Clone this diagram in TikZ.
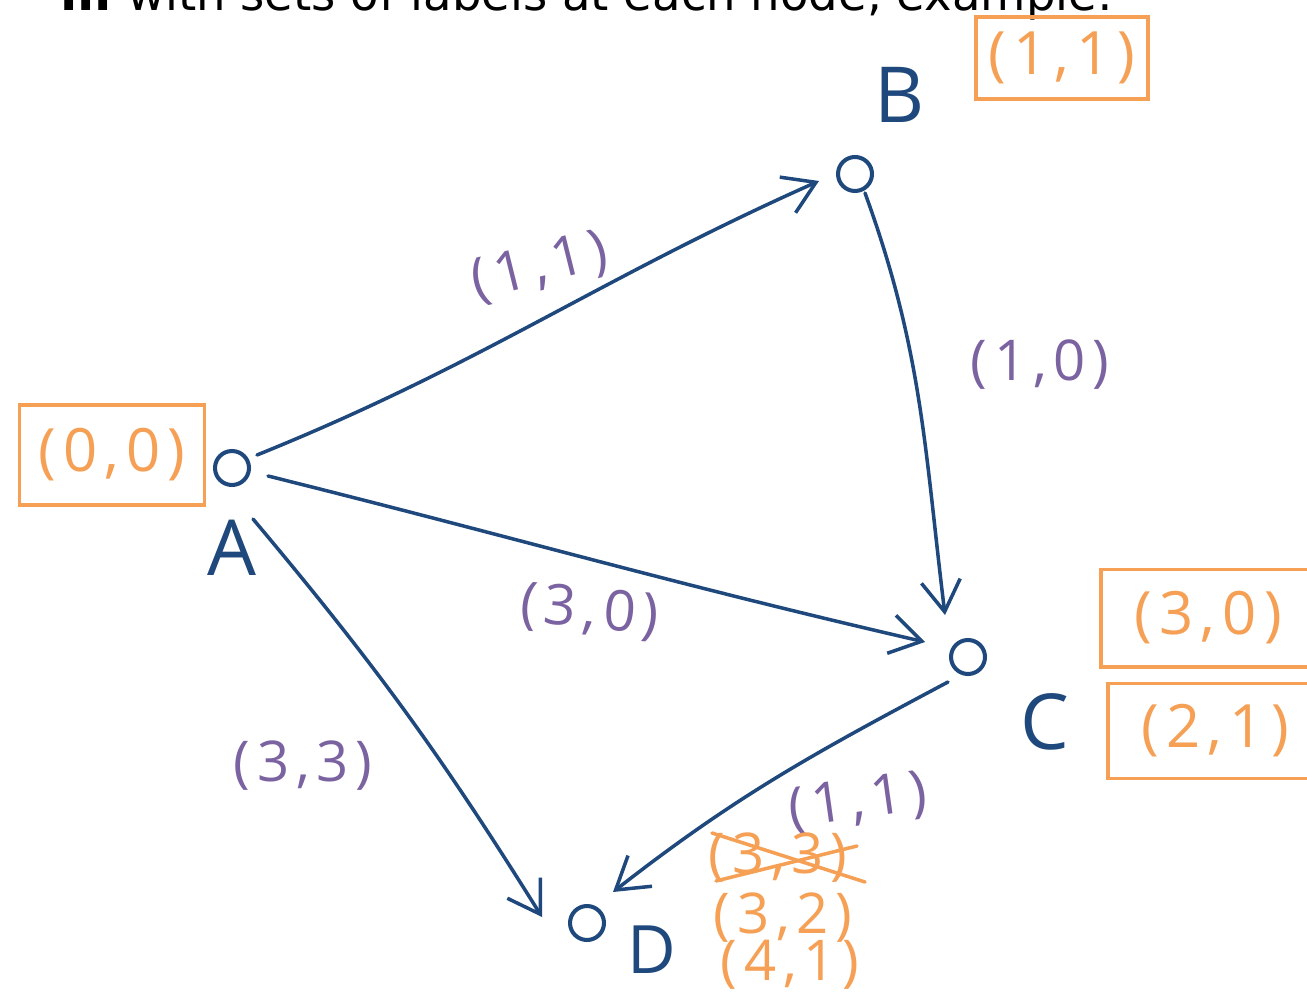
\documentclass[tikz,border=0pt]{standalone}
\usepackage{fontspec}
\setmainfont{Open Sans}
\newfontfamily\hand[LetterSpace=12]{Open Sans}
\newfontfamily\headfont{DejaVu Sans}
\usetikzlibrary{arrows.meta}
\definecolor{navy}{RGB}{31,73,125}
\definecolor{purp}{RGB}{123,98,160}
\definecolor{orng}{RGB}{245,160,85}
\begin{document}
\begin{tikzpicture}[x=0.02cm,y=0.02cm,
  vert/.style={circle,draw=navy,line width=2.3pt,minimum size=0.68cm,inner sep=0pt},
  conn/.style={draw=navy,line width=2pt,line cap=round,
    -{Straight Barb[length=0.62cm,width=0.78cm,line width=2pt]}},
  elab/.style={text=purp,font=\hand\fontsize{32}{32}\selectfont},
  nlab/.style={text=navy,font=\fontsize{44}{44}\selectfont},
  otext/.style={text=orng,font=\hand\fontsize{32}{32}\selectfont},
  obox/.style={draw=orng,line width=2pt,text=orng,font=\hand\fontsize{34}{34}\selectfont,inner sep=0pt}]
\path[use as bounding box] (0,0) rectangle (1307,-996);
\clip (0,0) rectangle (1307,-996);
\fill[white] (0,0) rectangle (1307,-996);
% header (cut off at top)
\node[anchor=base west,inner sep=0pt,font=\headfont\fontsize{26.5}{26.5}\selectfont] (head) at (60,-11)
  {\textbf{III} with sets of labels at each node, example:};
% vertices
\node[vert] (A) at (232,-468) {};
\node[vert] (B) at (855,-174) {};
\node[vert] (C) at (968,-657) {};
\node[vert] (D) at (587,-923) {};
% vertex names
\node[nlab] (LA) at (232,-548) {A};
\node[nlab] (LB) at (900,-95) {B};
\node[nlab] (LC) at (1045,-722) {C};
\node[nlab,font=\fontsize{38}{38}\selectfont] (LD) at (652,-950) {D};
% edges
\draw[conn] ([shift={(25,13)}]A.center) to[out=22,in=-156] ([shift={(-36,-7)}]B.center);
\draw[conn] ([shift={(10,-19)}]B.center) to[out=-70,in=97] ([shift={(-23,42)}]C.center);
\draw[conn] ([shift={(36,-8)}]A.center) to[out=-14,in=167] ([shift={(-43,15)}]C.center);
\draw[conn] ([shift={(21,-51)}]A.center) to[out=-50,in=122] ([shift={(-45,6)}]D.center);
\draw[conn] ([shift={(-20,-25)}]C.center) to[out=-152,in=38] ([shift={(26,31)}]D.center);
% edge labels
\node[elab,rotate=14] (eAB) at (540,-268) {(1,1)};
\node[elab] (eBC) at (1040,-365) {(1,0)};
\node[elab,rotate=-5] (eAC) at (590,-612) {(3,0)};
\node[elab] (eAD) at (303,-766) {(3,3)};
\node[elab,rotate=8] (eCD) at (858,-803) {(1,1)};
% label boxes
\node[obox,minimum width=3.7cm,minimum height=2cm] (bA) at (112,-455) {(0,0)};
\node[obox,minimum width=3.45cm,minimum height=1.65cm] (bB) at (1062,-58) {(1,1)};
\node[obox,minimum width=4.3cm,minimum height=1.95cm,anchor=west] (bC1) at (1099,-618) {(3,0)\hspace{0.3cm}};
\node[obox,minimum width=4.3cm,minimum height=1.9cm,anchor=west] (bC2) at (1106,-731) {(2,1)\hspace{0.3cm}};
% labels at D
\node[otext] (d1) at (778,-858) {(3,3)};
\draw[orng,line width=2pt,line cap=round] (712,-833) -- (865,-882);
\draw[orng,line width=2pt,line cap=round] (716,-881) -- (857,-846);
\node[otext] (d2) at (783,-918) {(3,2)};
\node[otext] (d3) at (790,-965) {(4,1)};
\end{tikzpicture}
\end{document}
